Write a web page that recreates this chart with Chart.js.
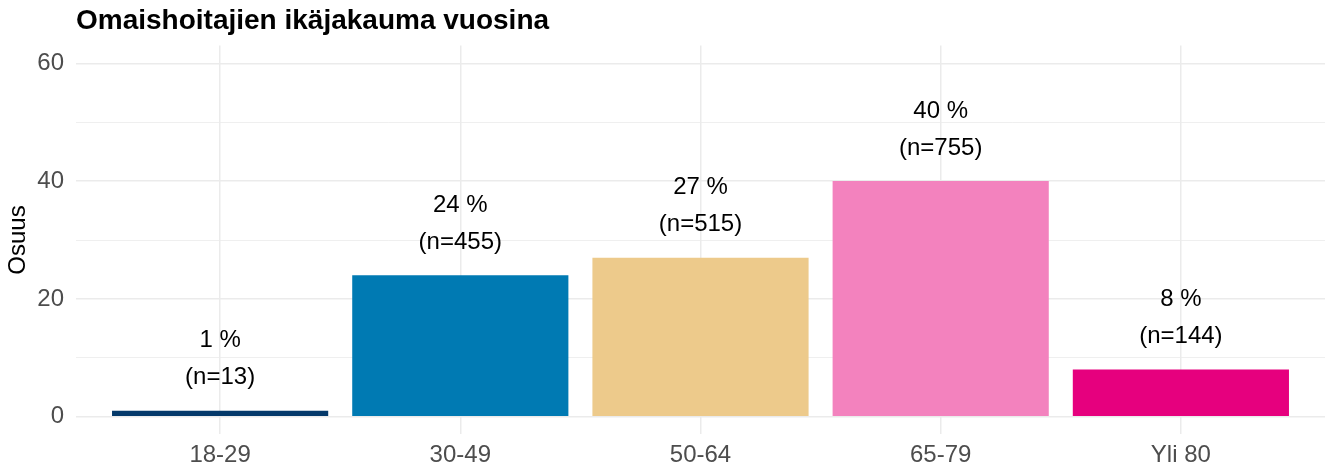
<!DOCTYPE html>
<html>
<head>
<meta charset="utf-8">
<script src="https://cdn.jsdelivr.net/npm/chart.js@4"></script>
<style>
  html, body { margin: 0; padding: 0; background: #fff; }
  #wrap { width: 1333px; height: 470px; }
</style>
</head>
<body>
<div id="wrap"><canvas id="ageChart"></canvas></div>
<script>
const categories = ["18-29", "30-49", "50-64", "65-79", "Yli 80"];
const shares = [1, 24, 27, 40, 8];
const counts = [13, 455, 515, 755, 144];
const barColors = ["#04396A", "#007AB3", "#EDCA8B", "#F382BE", "#E6007E"];
const yTicks = [0, 10, 20, 30, 40, 50, 60];

const FONT = "'Liberation Sans', Arial, sans-serif";

// two-line value labels above the bars
const barLabels = {
    id: "barLabels",
    afterDatasetsDraw(chart) {
        const ctx = chart.ctx;
        const meta = chart.getDatasetMeta(0);
        ctx.save();
        ctx.font = "24px " + FONT;
        ctx.fillStyle = "#000";
        ctx.textAlign = "center";
        ctx.textBaseline = "middle";
        meta.data.forEach((bar, i) => {
            ctx.fillText(shares[i] + " %", bar.x, bar.y - 70);
            ctx.fillText("(n=" + counts[i] + ")", bar.x, bar.y - 33);
        });
        ctx.restore();
    }
};

const ctx = document.getElementById("ageChart").getContext("2d");
new Chart(ctx, {
    type: "bar",
    data: {
        datasets: [{
            data: shares.map((v, i) => ({ x: i + 1, y: v })),
            backgroundColor: barColors,
            categoryPercentage: 1,
            barPercentage: 0.9,
            borderWidth: 0
        }]
    },
    options: {
        responsive: true,
        maintainAspectRatio: false,
        animation: false,
        layout: { padding: { left: 0, right: 8, top: 0, bottom: 0 } },
        plugins: {
            legend: { display: false },
            tooltip: { enabled: false },
            title: {
                display: true,
                text: "Omaishoitajien ikäjakauma vuosina",
                align: "start",
                fullSize: false,
                color: "#000",
                font: { family: FONT, size: 28, weight: "bold" },
                padding: { top: 4, bottom: 8 }
            }
        },
        scales: {
            x: {
                type: "linear",
                min: 0.4,
                max: 5.6,
                offset: false,
                afterBuildTicks: axis => {
                    axis.ticks = categories.map((c, i) => ({ value: i + 1 }));
                },
                afterFit: axis => { axis.height = 35.6; },
                ticks: {
                    callback: v => categories[v - 1],
                    color: "#4D4D4D",
                    font: { family: FONT, size: 24 },
                    padding: 7,
                    maxRotation: 0,
                    autoSkip: false
                },
                grid: { color: "#EBEBEB", lineWidth: 1.5, drawTicks: false, offset: false },
                border: { display: false }
            },
            y: {
                min: -3,
                max: 63,
                afterBuildTicks: axis => {
                    axis.ticks = yTicks.map(v => ({ value: v }));
                },
                afterFit: axis => { axis.width = 76; },
                ticks: {
                    callback: v => (v % 20 === 0 ? v : ""),
                    color: "#4D4D4D",
                    font: { family: FONT, size: 24 },
                    padding: 12
                },
                grid: {
                    color: "#EBEBEB",
                    lineWidth: c => (c.tick && c.tick.value % 20 === 0 ? 1.5 : 0.8),
                    drawTicks: false
                },
                border: { display: false },
                title: {
                    display: true,
                    text: "Osuus",
                    color: "#000",
                    font: { family: FONT, size: 24 },
                    padding: { top: 4, bottom: 0 }
                }
            }
        }
    },
    plugins: [barLabels]
});
</script>
</body>
</html>
